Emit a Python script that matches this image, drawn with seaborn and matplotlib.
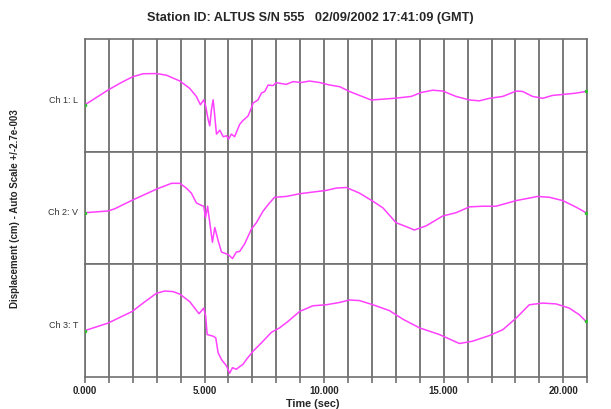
import matplotlib
matplotlib.use("Agg")
import matplotlib.pyplot as plt
import seaborn as sns
import pandas as pd

# Time axis (s) and displacement (units of 1e-3 cm) for each channel
t1 = [0, 0.97, 1.46, 1.98, 2.43, 2.99, 3.41, 3.97, 4.38, 4.66, 4.83, 4.97, 5.05, 5.15,
      5.22, 5.29, 5.36, 5.41, 5.50, 5.64, 5.78, 5.92, 6.01, 6.12, 6.26, 6.33, 6.47, 6.61,
      6.82, 6.96, 7.03, 7.24, 7.38, 7.52, 7.66, 7.86, 8.00, 8.42, 8.70, 9.05, 9.39, 9.81,
      10.23, 10.65, 11.06, 11.48, 11.97, 12.46, 13.01, 13.64, 14.06, 14.54, 14.96, 15.52,
      16.08, 16.49, 16.91, 17.47, 18.03, 18.30, 18.72, 19.14, 19.55, 20.11, 20.53, 20.95]
ch1 = [-0.45, 0.26, 0.58, 0.89, 1.04, 1.05, 0.97, 0.69, 0.34, -0.05, -0.45, -0.21, -0.52, -1.15,
       -1.46, -0.68, -0.21, -0.76, -1.86, -1.67, -1.98, -1.94, -2.10, -1.86, -1.98, -1.78, -1.39, -1.20,
       -0.99, -0.60, -0.37, -0.21, 0.11, 0.19, 0.50, 0.47, 0.61, 0.53, 0.66, 0.62, 0.69, 0.62,
       0.50, 0.42, 0.19, 0.00, -0.22, -0.18, -0.13, -0.05, 0.14, 0.25, 0.21, -0.05,
       -0.22, -0.26, -0.14, -0.05, 0.21, 0.19, -0.05, -0.14, 0.00, 0.06, 0.11, 0.19]

t2 = [0, 0.97, 1.25, 1.98, 2.99, 3.62, 3.97, 4.24, 4.45, 4.66, 4.87, 4.97, 5.04, 5.13,
      5.22, 5.33, 5.43, 5.57, 5.71, 5.99, 6.17, 6.33, 6.47, 6.68, 6.96, 7.17, 7.45, 7.72,
      7.93, 8.42, 8.98, 9.53, 10.09, 10.50, 10.93, 11.48, 12.04, 12.46, 13.01, 13.78, 14.27,
      14.96, 15.52, 16.08, 16.63, 17.19, 18.03, 18.93, 19.42, 19.98, 20.53, 20.95]
ch2 = [-0.23, -0.15, -0.04, 0.37, 0.90, 1.18, 1.18, 0.95, 0.71, 0.24, 0.12, 0.08, -0.47, 0.08,
       -0.71, -1.65, -0.94, -1.57, -2.12, -2.24, -2.43, -2.12, -2.09, -1.72, -1.02, -0.71, -0.15, 0.24,
       0.51, 0.55, 0.68, 0.76, 0.84, 0.95, 0.98, 0.71, 0.32, 0.00, -0.71, -1.06, -0.86,
       -0.39, -0.23, 0.05, 0.08, 0.08, 0.35, 0.55, 0.51, 0.35, 0.04, -0.23]

t3 = [0, 0.97, 1.98, 2.43, 2.99, 3.34, 3.69, 3.97, 4.38, 4.59, 4.77, 4.97, 5.05, 5.11,
      5.36, 5.47, 5.57, 5.71, 5.92, 6.05, 6.17, 6.33, 6.47, 6.61, 6.75, 7.03, 7.38, 7.80,
      8.14, 8.49, 8.98, 9.53, 10.09, 10.65, 11.06, 11.48, 12.04, 12.73, 13.29, 13.99, 14.82,
      15.66, 16.21, 16.91, 17.47, 18.03, 18.58, 19.14, 19.70, 20.25, 20.67, 20.95]
ch3 = [-0.49, -0.13, 0.43, 0.83, 1.30, 1.41, 1.38, 1.26, 0.90, 0.59, 0.32, 0.59, 0.19, -0.68,
       -0.76, -0.84, -1.56, -1.88, -2.19, -2.54, -2.27, -2.35, -2.22, -2.11, -1.88, -1.48, -1.08, -0.57,
       -0.36, -0.05, 0.43, 0.70, 0.75, 0.86, 0.98, 0.95, 0.75, 0.47, 0.06, -0.36, -0.68,
       -1.11, -1.00, -0.73, -0.45, 0.11, 0.75, 0.83, 0.79, 0.59, 0.27, -0.05]

channels = ["Ch 1: L", "Ch 2: V", "Ch 3: T"]
times = [t1, t2, t3]
values = [ch1, ch2, ch3]
x_ticks = [0, 5, 10, 15, 20]
x_tick_labels = ["0.000", "5.000", "10.000", "15.000", "20.000"]

scale = 2.7  # auto scale, +/-2.7e-003 cm

sns.set_style("white")
plt.rcParams["font.family"] = ["Liberation Sans", "DejaVu Sans"]

fig = plt.figure(figsize=(6.11, 4.10), dpi=100)
gs = fig.add_gridspec(3, 1, left=0.139, right=0.961, top=0.902, bottom=0.079, hspace=0)
grid_col = "#707070"
line_col = "#ff40ff"

axes = []
for i in range(3):
    ax = fig.add_subplot(gs[i, 0], sharex=axes[0] if axes else None)
    axes.append(ax)
    df = pd.DataFrame({"t": times[i], "v": values[i]})
    sns.lineplot(data=df, x="t", y="v", ax=ax, color=line_col, linewidth=1.1,
                 estimator=None, zorder=3)
    ax.plot([times[i][0], times[i][-1]], [values[i][0], values[i][-1]], "o",
            ms=1.6, color="#33bb33", zorder=4)
    ax.set_xlim(0, 21)
    ax.set_ylim(-scale, scale)
    ax.set_yticks([])
    ax.set_ylabel("")
    ax.set_xlabel("")
    ax.set_xticks(range(0, 22), minor=True)
    ax.set_xticks(x_ticks)
    ax.grid(True, axis="x", which="both", color=grid_col, linewidth=1.3, zorder=1)
    ax.set_axisbelow(True)
    for s in ax.spines.values():
        s.set_color(grid_col)
        s.set_linewidth(1.2)
        s.set_visible(True)
    ax.text(-0.013, 0.465, channels[i], transform=ax.transAxes, ha="right", va="center",
            fontsize=6.5, color="#333333")
    if i < 2:
        ax.tick_params(axis="x", which="both", bottom=False, labelbottom=False)

axb = axes[-1]
axb.set_xticklabels(x_tick_labels)
axb.tick_params(axis="x", which="both", bottom=True, length=4, color=grid_col,
                labelsize=7, pad=2, width=1.2)
for lab in axb.get_xticklabels():
    lab.set_fontweight("bold")

fig.text(0.508, 0.956, "Station ID: ALTUS S/N 555   02/09/2002 17:41:09 (GMT)",
         ha="center", va="center", fontsize=9.2, fontweight="bold")
fig.text(0.512, 0.0075, "Time (sec)", ha="center", va="baseline", fontsize=7.8,
         fontweight="bold")
fig.text(0.025, 0.49, "Displacement (cm) - Auto Scale +/-2.7e-003", rotation=90,
         ha="center", va="center", fontsize=7, fontweight="bold")

fig.savefig("out.png", dpi=100)
